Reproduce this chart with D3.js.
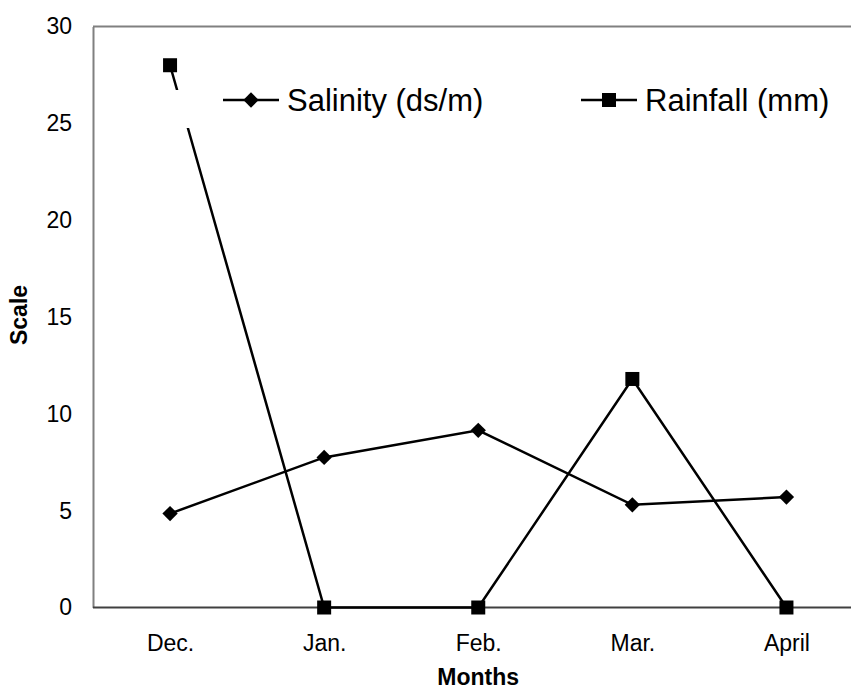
<!DOCTYPE html>
<html>
<head>
<meta charset="utf-8">
<script src="https://cdn.jsdelivr.net/npm/d3@7"></script>
<style>
  body { margin: 0; background: #fff; }
  text { font-family: Arial, "Liberation Sans", sans-serif; fill: #000; }
</style>
</head>
<body>
<script>
const months = ["Dec.", "Jan.", "Feb.", "Mar.", "April"];
const salinity = [4.85, 7.75, 9.15, 5.3, 5.7];
const rainfall = [28, 0, 0, 11.8, 0];
const yTicks = [0, 5, 10, 15, 20, 25, 30];

const w = 851;
const h = 690;
const plotLeft = 93, plotTop = 26.5, plotBottom = 607.5, plotRight = 863.5;

const svg = d3.select("body")
  .append("svg")
  .attr("width", w)
  .attr("height", h);

const xScale = d3.scalePoint()
  .domain(months)
  .range([plotLeft, plotRight])
  .padding(0.5);

const yScale = d3.scaleLinear()
  .domain([0, 30])
  .range([plotBottom, plotTop]);

// frame: top border and left axis in gray
svg.append("line")
  .attr("x1", plotLeft).attr("x2", w)
  .attr("y1", plotTop).attr("y2", plotTop)
  .attr("stroke", "#808080").attr("stroke-width", 2);

const yAxis = d3.axisLeft(yScale).tickValues(yTicks).tickSize(0).tickPadding(21);
svg.append("g")
  .attr("transform", "translate(" + plotLeft + ",0)")
  .call(yAxis)
  .call(g => g.select(".domain").attr("stroke", "#808080").attr("stroke-width", 2))
  .call(g => g.selectAll("text").attr("font-size", 23).attr("font-family", "Arial, 'Liberation Sans', sans-serif"));

const xAxis = d3.axisBottom(xScale).tickSize(0).tickPadding(27);
svg.append("g")
  .attr("transform", "translate(0," + plotBottom + ")")
  .call(xAxis)
  .call(g => g.select(".domain").attr("d", "M" + plotLeft + ",0H" + w).attr("stroke", "#404040").attr("stroke-width", 2))
  .call(g => g.selectAll("text").attr("font-size", 23).attr("font-family", "Arial, 'Liberation Sans', sans-serif"));

// axis titles
svg.append("text")
  .attr("x", xScale("Feb."))
  .attr("y", 685)
  .attr("text-anchor", "middle")
  .attr("font-size", 23)
  .attr("font-weight", "bold")
  .text("Months");

svg.append("text")
  .attr("transform", "translate(27,315) rotate(-90)")
  .attr("text-anchor", "middle")
  .attr("font-size", 23)
  .attr("font-weight", "bold")
  .text("Scale");

const line = d3.line()
  .x((d, i) => xScale(months[i]))
  .y(d => yScale(d));

const diamond = d3.symbol().type(d3.symbolDiamond2).size(150);

function drawSeries(values, marker) {
  svg.append("path")
    .datum(values)
    .attr("fill", "none")
    .attr("stroke", "#000")
    .attr("stroke-width", 2.5)
    .attr("d", line);
  const g = svg.append("g");
  values.forEach((v, i) => {
    const x = xScale(months[i]), y = yScale(v);
    if (marker === "square") {
      g.append("rect")
        .attr("x", x - 7).attr("y", y - 7)
        .attr("width", 14).attr("height", 14)
        .attr("fill", "#000");
    } else {
      g.append("path")
        .attr("transform", "translate(" + x + "," + y + ")")
        .attr("d", diamond)
        .attr("fill", "#000");
    }
  });
}

drawSeries(salinity, "diamond");
drawSeries(rainfall, "square");

// legend (white box covering the plot)
const legend = svg.append("g");
legend.append("rect")
  .attr("x", 175).attr("y", 90)
  .attr("width", w - 175).attr("height", 38)
  .attr("fill", "#fff");

const items = [
  { name: "Salinity (ds/m)", marker: "diamond", x: 223 },
  { name: "Rainfall (mm)", marker: "square", x: 581 }
];
items.forEach(it => {
  const ly = 100;
  legend.append("line")
    .attr("x1", it.x).attr("x2", it.x + 56)
    .attr("y1", ly).attr("y2", ly)
    .attr("stroke", "#000").attr("stroke-width", 2.5);
  if (it.marker === "square") {
    legend.append("rect")
      .attr("x", it.x + 21).attr("y", ly - 7)
      .attr("width", 14).attr("height", 14)
      .attr("fill", "#000");
  } else {
    legend.append("path")
      .attr("transform", "translate(" + (it.x + 28) + "," + ly + ")")
      .attr("d", diamond)
      .attr("fill", "#000");
  }
  legend.append("text")
    .attr("x", it.x + 64)
    .attr("y", ly + 11)
    .attr("font-size", 31)
    .text(it.name);
});
</script>
</body>
</html>
